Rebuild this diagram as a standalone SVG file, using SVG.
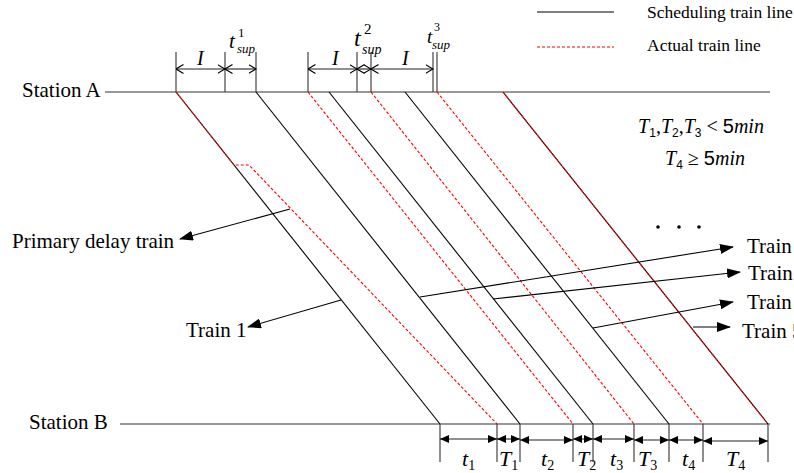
<svg xmlns="http://www.w3.org/2000/svg" width="794" height="473" viewBox="0 0 794 473">
<style>
.tl{stroke:#000;stroke-width:1.1;fill:none}
.al{stroke:#ff0000;stroke-width:1.1;fill:none;stroke-dasharray:3 2}
.st{stroke:#333;stroke-width:1.2;fill:none}
.tk{stroke:#444;stroke-width:1.2;fill:none}
.dim{stroke:#222;stroke-width:1.1;fill:none}
.ptr{stroke:#000;stroke-width:1.1;fill:none}
.lbl{font-family:"Liberation Serif","Times New Roman",serif;font-size:21px;fill:#000}
.leg{font-family:"Liberation Serif","Times New Roman",serif;font-size:17.5px;fill:#000}
.it{font-family:"Liberation Serif","Times New Roman",serif;font-style:italic;fill:#000}
.rm{font-family:"Liberation Serif","Times New Roman",serif;fill:#000}
.sn{font-family:"Liberation Sans",Arial,sans-serif;fill:#000}
</style>
<defs>
<marker id="big" viewBox="0 0 14 10" refX="13" refY="5" markerWidth="14" markerHeight="10" markerUnits="userSpaceOnUse" orient="auto"><path d="M0,0 L14,5 L0,10 z" fill="#000"/></marker>
<marker id="sm" viewBox="0 0 9 8" refX="9" refY="4" markerWidth="9" markerHeight="8" markerUnits="userSpaceOnUse" orient="auto-start-reverse"><path d="M0,0 L9,4 L0,8 z" fill="#000"/></marker>
<marker id="op" viewBox="0 0 8 10" refX="7.5" refY="5" markerWidth="8" markerHeight="10" markerUnits="userSpaceOnUse" orient="auto-start-reverse"><path d="M0,0.5 L7.5,5 L0,9.5" fill="none" stroke="#000" stroke-width="1.1"/></marker>
</defs>

<g id="legend">
<line class="tl" x1="537" y1="12" x2="614" y2="12"/>
<text class="leg" x="647" y="18">Scheduling train line</text>
<line class="al" x1="537" y1="47" x2="614" y2="47"/>
<text class="leg" x="647" y="51">Actual train line</text>
</g>

<g id="stationA">
<text class="lbl" x="22" y="97">Station A</text>
<line class="st" x1="105" y1="92" x2="770" y2="92"/>
</g>
<g id="stationB">
<text class="lbl" x="29" y="429">Station B</text>
<line class="st" x1="120" y1="424" x2="770" y2="424"/>
</g>

<g id="train-lines">
<line class="tl" x1="176" y1="92" x2="440" y2="424"/>
<line class="tl" x1="256" y1="92" x2="520" y2="424"/>
<line class="tl" x1="329" y1="92" x2="593" y2="424"/>
<line class="tl" x1="405" y1="92" x2="669" y2="424"/>
<line class="tl" x1="503" y1="92" x2="768" y2="424" stroke="#600"/>
<polyline class="al" points="176,92 234,165 249,165 497,424"/>
<line class="al" x1="308" y1="92" x2="573" y2="424"/>
<line class="al" x1="371" y1="92" x2="634" y2="424"/>
<line class="al" x1="437" y1="92" x2="703" y2="424"/>
<line class="al" x1="503" y1="92" x2="768" y2="424" stroke-dasharray="4 1"/>
</g>

<g id="top-dimensions">
<g class="tk">
<line x1="176" y1="52" x2="176" y2="92"/>
<line x1="225" y1="52" x2="225" y2="92"/>
<line x1="256" y1="52" x2="256" y2="92"/>
<line x1="308" y1="52" x2="308" y2="92"/>
<line x1="357" y1="52" x2="357" y2="92"/>
<line x1="371" y1="52" x2="371" y2="92"/>
<line x1="433" y1="52" x2="433" y2="92"/>
<line x1="437" y1="52" x2="437" y2="92"/>
</g>
<line class="dim" x1="176" y1="69" x2="225" y2="69" marker-start="url(#op)" marker-end="url(#op)"/>
<line class="dim" x1="225" y1="69" x2="256" y2="69" marker-start="url(#op)" marker-end="url(#op)"/>
<line class="dim" x1="308" y1="69" x2="357" y2="69" marker-start="url(#op)" marker-end="url(#op)"/>
<line class="dim" x1="357" y1="69" x2="371" y2="69" marker-start="url(#op)" marker-end="url(#op)"/>
<line class="dim" x1="371" y1="69" x2="433" y2="69" marker-start="url(#op)" marker-end="url(#op)"/>
<text class="it" font-size="20" x="197" y="65">I</text>
<text class="it" font-size="20" x="332" y="65">I</text>
<text class="it" font-size="20" x="402" y="65">I</text>
<text class="it" font-size="21" x="229" y="48">t</text>
<text class="rm" font-size="13" x="238" y="37">1</text>
<text class="it" font-size="13" x="237" y="53">sup</text>
<text class="it" font-size="24" x="354" y="46">t</text>
<text class="rm" font-size="15" x="364" y="34">2</text>
<text class="it" font-size="14" x="362" y="54">sup</text>
<text class="it" font-size="19" x="427" y="43">t</text>
<text class="rm" font-size="12" x="434" y="31">3</text>
<text class="it" font-size="13" x="432" y="49">sup</text>
</g>

<g id="conditions">
<text x="701" y="133" text-anchor="middle" font-size="20"><tspan class="it">T</tspan><tspan class="sn" font-size="12" dy="4">1</tspan><tspan class="rm" dy="-4">,</tspan><tspan class="it">T</tspan><tspan class="sn" font-size="12" dy="4">2</tspan><tspan class="rm" dy="-4">,</tspan><tspan class="it">T</tspan><tspan class="sn" font-size="12" dy="4">3</tspan><tspan class="rm" dy="-4"> &lt; </tspan><tspan class="sn">5</tspan><tspan class="it">min</tspan></text>
<text x="705" y="165" text-anchor="middle" font-size="20"><tspan class="it">T</tspan><tspan class="sn" font-size="12" dy="4">4</tspan><tspan class="rm" dy="-4"> ≥ </tspan><tspan class="sn">5</tspan><tspan class="it">min</tspan></text>
</g>

<g id="dots">
<circle cx="658" cy="227" r="1.8" fill="#000"/>
<circle cx="679" cy="227" r="1.8" fill="#000"/>
<circle cx="699" cy="227" r="1.8" fill="#000"/>
</g>

<g id="pointers">
<line class="ptr" x1="290" y1="209" x2="180" y2="239" marker-end="url(#big)"/>
<line class="ptr" x1="341" y1="300" x2="248" y2="327" marker-end="url(#big)"/>
<line class="ptr" x1="420" y1="297" x2="733" y2="247" marker-end="url(#big)"/>
<line class="ptr" x1="493" y1="299" x2="740" y2="272" marker-end="url(#big)"/>
<line class="ptr" x1="593" y1="328" x2="733" y2="302" marker-end="url(#big)"/>
<line class="ptr" x1="693" y1="327" x2="730" y2="327" marker-end="url(#big)"/>
</g>
<g id="labels">
<text class="lbl" x="12" y="248">Primary delay train</text>
<text class="lbl" x="186" y="337">Train 1</text>
<text class="lbl" x="747" y="253">Train 2</text>
<text class="lbl" x="748" y="280">Train 3</text>
<text class="lbl" x="747" y="309">Train 4</text>
<text class="lbl" x="742" y="338">Train 5</text>
</g>

<g id="bottom-dimensions">
<g class="tk">
<line x1="440" y1="424" x2="440" y2="462"/>
<line x1="497" y1="424" x2="497" y2="462"/>
<line x1="520" y1="424" x2="520" y2="462"/>
<line x1="573" y1="424" x2="573" y2="462"/>
<line x1="593" y1="424" x2="593" y2="462"/>
<line x1="634" y1="424" x2="634" y2="462"/>
<line x1="669" y1="424" x2="669" y2="462"/>
<line x1="703" y1="424" x2="703" y2="462"/>
<line x1="768" y1="424" x2="768" y2="462"/>
</g>
<g class="dim">
<line x1="440" y1="439" x2="497" y2="439" marker-start="url(#sm)" marker-end="url(#sm)"/>
<line x1="497" y1="439" x2="520" y2="439" marker-start="url(#sm)" marker-end="url(#sm)"/>
<line x1="520" y1="440" x2="573" y2="440" marker-start="url(#sm)" marker-end="url(#sm)"/>
<line x1="573" y1="439" x2="593" y2="439" marker-start="url(#sm)" marker-end="url(#sm)"/>
<line x1="593" y1="439" x2="634" y2="439" marker-start="url(#sm)" marker-end="url(#sm)"/>
<line x1="634" y1="440" x2="669" y2="440" marker-start="url(#sm)" marker-end="url(#sm)"/>
<line x1="669" y1="440" x2="703" y2="440" marker-start="url(#sm)" marker-end="url(#sm)"/>
<line x1="703" y1="441" x2="768" y2="441" marker-start="url(#sm)" marker-end="url(#sm)"/>
</g>
<text x="462" y="466" font-size="22"><tspan class="it">t</tspan><tspan class="rm" font-size="14" dy="4">1</tspan></text>
<text x="499" y="466" font-size="22"><tspan class="it">T</tspan><tspan class="rm" font-size="14" dy="4">1</tspan></text>
<text x="541" y="466" font-size="22"><tspan class="it">t</tspan><tspan class="rm" font-size="14" dy="4">2</tspan></text>
<text x="577" y="466" font-size="22"><tspan class="it">T</tspan><tspan class="rm" font-size="14" dy="4">2</tspan></text>
<text x="610" y="466" font-size="22"><tspan class="it">t</tspan><tspan class="rm" font-size="14" dy="4">3</tspan></text>
<text x="638" y="466" font-size="22"><tspan class="it">T</tspan><tspan class="rm" font-size="14" dy="4">3</tspan></text>
<text x="682" y="466" font-size="22"><tspan class="it">t</tspan><tspan class="rm" font-size="14" dy="4">4</tspan></text>
<text x="726" y="466" font-size="22"><tspan class="it">T</tspan><tspan class="rm" font-size="14" dy="4">4</tspan></text>
</g>
</svg>
